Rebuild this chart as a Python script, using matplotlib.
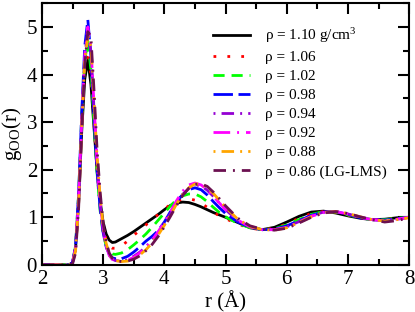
import matplotlib
matplotlib.use('Agg')
import matplotlib.pyplot as plt
from matplotlib.ticker import MultipleLocator

plt.rcParams['font.family'] = ['Liberation Serif', 'DejaVu Serif']
plt.rcParams['mathtext.fontset'] = 'custom'
plt.rcParams['mathtext.rm'] = 'Liberation Serif'
plt.rcParams['mathtext.it'] = 'Liberation Serif'

# r grid (Angstrom)
r = [2.0, 2.45, 2.5, 2.55, 2.6, 2.65, 2.7, 2.75, 2.8, 2.85, 2.9, 2.95, 3.0, 3.05, 3.1, 3.15, 3.2,
     3.3, 3.4, 3.5, 3.6, 3.7, 3.8, 3.9, 4.0, 4.1, 4.2, 4.3, 4.4, 4.5, 4.6, 4.7, 4.8, 4.9, 5.0,
     5.2, 5.4, 5.6, 5.8, 6.0, 6.2, 6.4, 6.6, 6.8, 7.0, 7.2, 7.4, 7.6, 7.8, 8.0]

g_110 = [0, 0, 0.05, 0.35, 1.3, 2.8, 3.9, 4.3, 3.8, 2.9, 2.0, 1.35, 0.9, 0.65, 0.52, 0.47, 0.48,
         0.55, 0.62, 0.70, 0.79, 0.88, 0.97, 1.06, 1.16, 1.25, 1.30, 1.32, 1.31, 1.27, 1.22, 1.16, 1.10, 1.05, 1.0,
         0.89, 0.78, 0.74, 0.79, 0.90, 1.02, 1.11, 1.13, 1.09, 1.03, 0.98, 0.95, 0.96, 0.99, 1.0]
g_106 = [0, 0, 0.05, 0.38, 1.4, 3.0, 4.1, 4.5, 4.0, 3.0, 2.0, 1.25, 0.78, 0.52, 0.39, 0.35, 0.35,
         0.40, 0.50, 0.62, 0.73, 0.84, 0.95, 1.06, 1.17, 1.27, 1.34, 1.38, 1.39, 1.36, 1.30, 1.21, 1.11, 1.03, 0.97,
         0.86, 0.77, 0.74, 0.77, 0.86, 0.98, 1.08, 1.12, 1.10, 1.04, 0.98, 0.95, 0.95, 0.98, 1.0]
g_102 = [0, 0, 0.05, 0.4, 1.5, 3.1, 4.3, 4.7, 4.1, 3.0, 1.95, 1.15, 0.65, 0.40, 0.28, 0.23, 0.22,
         0.25, 0.32, 0.42, 0.53, 0.65, 0.79, 0.94, 1.09, 1.24, 1.37, 1.45, 1.49, 1.49, 1.43, 1.33, 1.21, 1.10, 1.01,
         0.87, 0.78, 0.74, 0.76, 0.84, 0.95, 1.06, 1.12, 1.11, 1.05, 0.99, 0.95, 0.95, 0.98, 1.0]
g_098 = [0, 0, 0.05, 0.4, 1.5, 3.2, 4.6, 5.15, 4.4, 3.1, 2.0, 1.2, 0.68, 0.38, 0.22, 0.15, 0.13,
         0.13, 0.18, 0.27, 0.38, 0.50, 0.60, 0.72, 0.90, 1.12, 1.33, 1.48, 1.58, 1.62, 1.58, 1.47, 1.33, 1.20, 1.08,
         0.90, 0.79, 0.74, 0.75, 0.82, 0.93, 1.04, 1.11, 1.12, 1.06, 0.99, 0.95, 0.94, 0.97, 1.0]
g_094 = [0, 0, 0.04, 0.35, 1.4, 3.0, 4.4, 4.9, 4.5, 3.3, 2.15, 1.3, 0.72, 0.38, 0.20, 0.12, 0.09,
         0.08, 0.11, 0.18, 0.27, 0.38, 0.52, 0.68, 0.87, 1.08, 1.30, 1.48, 1.61, 1.68, 1.66, 1.57, 1.44, 1.30, 1.16,
         0.93, 0.80, 0.74, 0.74, 0.80, 0.91, 1.03, 1.11, 1.12, 1.07, 1.0, 0.95, 0.93, 0.96, 1.0]
g_092 = [0, 0, 0.04, 0.35, 1.4, 3.0, 4.4, 5.0, 4.6, 3.4, 2.2, 1.35, 0.75, 0.40, 0.20, 0.12, 0.08,
         0.07, 0.10, 0.16, 0.25, 0.37, 0.52, 0.70, 0.90, 1.12, 1.35, 1.55, 1.68, 1.72, 1.68, 1.58, 1.44, 1.30, 1.16,
         0.94, 0.80, 0.74, 0.74, 0.79, 0.90, 1.02, 1.10, 1.12, 1.07, 1.0, 0.95, 0.93, 0.96, 1.0]
g_088 = [0, 0, 0.03, 0.3, 1.3, 2.9, 4.3, 4.8, 4.6, 3.5, 2.3, 1.45, 0.82, 0.45, 0.23, 0.13, 0.09,
         0.07, 0.08, 0.13, 0.21, 0.32, 0.46, 0.63, 0.83, 1.05, 1.28, 1.48, 1.62, 1.70, 1.70, 1.63, 1.50, 1.36, 1.21,
         0.96, 0.81, 0.74, 0.73, 0.78, 0.89, 1.01, 1.10, 1.12, 1.08, 1.01, 0.95, 0.92, 0.95, 0.99]
g_086 = [0, 0, 0.02, 0.25, 1.2, 2.8, 4.2, 4.9, 4.8, 3.7, 2.45, 1.55, 0.88, 0.48, 0.25, 0.14, 0.09,
         0.07, 0.08, 0.12, 0.19, 0.30, 0.43, 0.60, 0.80, 1.02, 1.25, 1.46, 1.61, 1.69, 1.70, 1.65, 1.53, 1.39, 1.24,
         0.98, 0.82, 0.75, 0.73, 0.77, 0.88, 1.00, 1.09, 1.12, 1.08, 1.01, 0.95, 0.90, 0.93, 0.99]

fig = plt.figure(figsize=(4.15, 3.12), dpi=100)
ax = fig.add_axes([0.101, 0.151, 0.885, 0.839])

lw = 2.0
ax.plot(r, g_110, color='black', lw=lw, label=r'ρ = 1.10 g/cm$^3$')
ax.plot(r, g_106, color='red', lw=lw, ls=(0, (1, 4)), label='ρ = 1.06')
ax.plot(r, g_102, color='#00ff00', lw=lw, ls=(0, (4, 2.5)), label='ρ = 1.02')
ax.plot(r, g_098, color='blue', lw=lw, ls=(0, (7, 2)), label='ρ = 0.98')
ax.plot(r, g_094, color='#9400d3', lw=lw, ls=(0, (0.7, 2.2, 4.5, 2.2)), label='ρ = 0.94')
ax.plot(r, g_092, color='magenta', lw=lw, ls=(0, (6, 2.5, 0.7, 2.5)), label='ρ = 0.92')
ax.plot(r, g_088, color='orange', lw=lw, ls=(0, (0.7, 2.2, 4.5, 2.2)), label='ρ = 0.88')
ax.plot(r, g_086, color='#6b1050', lw=lw, ls=(0, (4.5, 2.5, 0.7, 2.5)), label='ρ = 0.86 (LG-LMS)')

ax.set_xlim(2, 8)
ax.set_ylim(0, 5.5)
ax.xaxis.set_major_locator(MultipleLocator(1))
ax.xaxis.set_minor_locator(MultipleLocator(0.5))
ax.yaxis.set_major_locator(MultipleLocator(1))
ax.yaxis.set_minor_locator(MultipleLocator(0.5))
ax.tick_params(which='both', direction='in', top=True, right=True, width=1.5, labelsize=15)
ax.tick_params(which='major', length=8)
ax.tick_params(which='minor', length=4)
for s in ax.spines.values():
    s.set_linewidth(1.5)

ax.set_xlabel('r (Å)', fontsize=15, labelpad=2)
ax.set_ylabel(r'g$_{\mathrm{OO}}$(r)', fontsize=15, labelpad=2)

ax.legend(loc='upper right', bbox_to_anchor=(0.956, 0.935), borderaxespad=0,
          frameon=False, fontsize=11, handlelength=2.4, labelspacing=0.35,
          handletextpad=1.0)

fig.savefig('out.png', dpi=100)
